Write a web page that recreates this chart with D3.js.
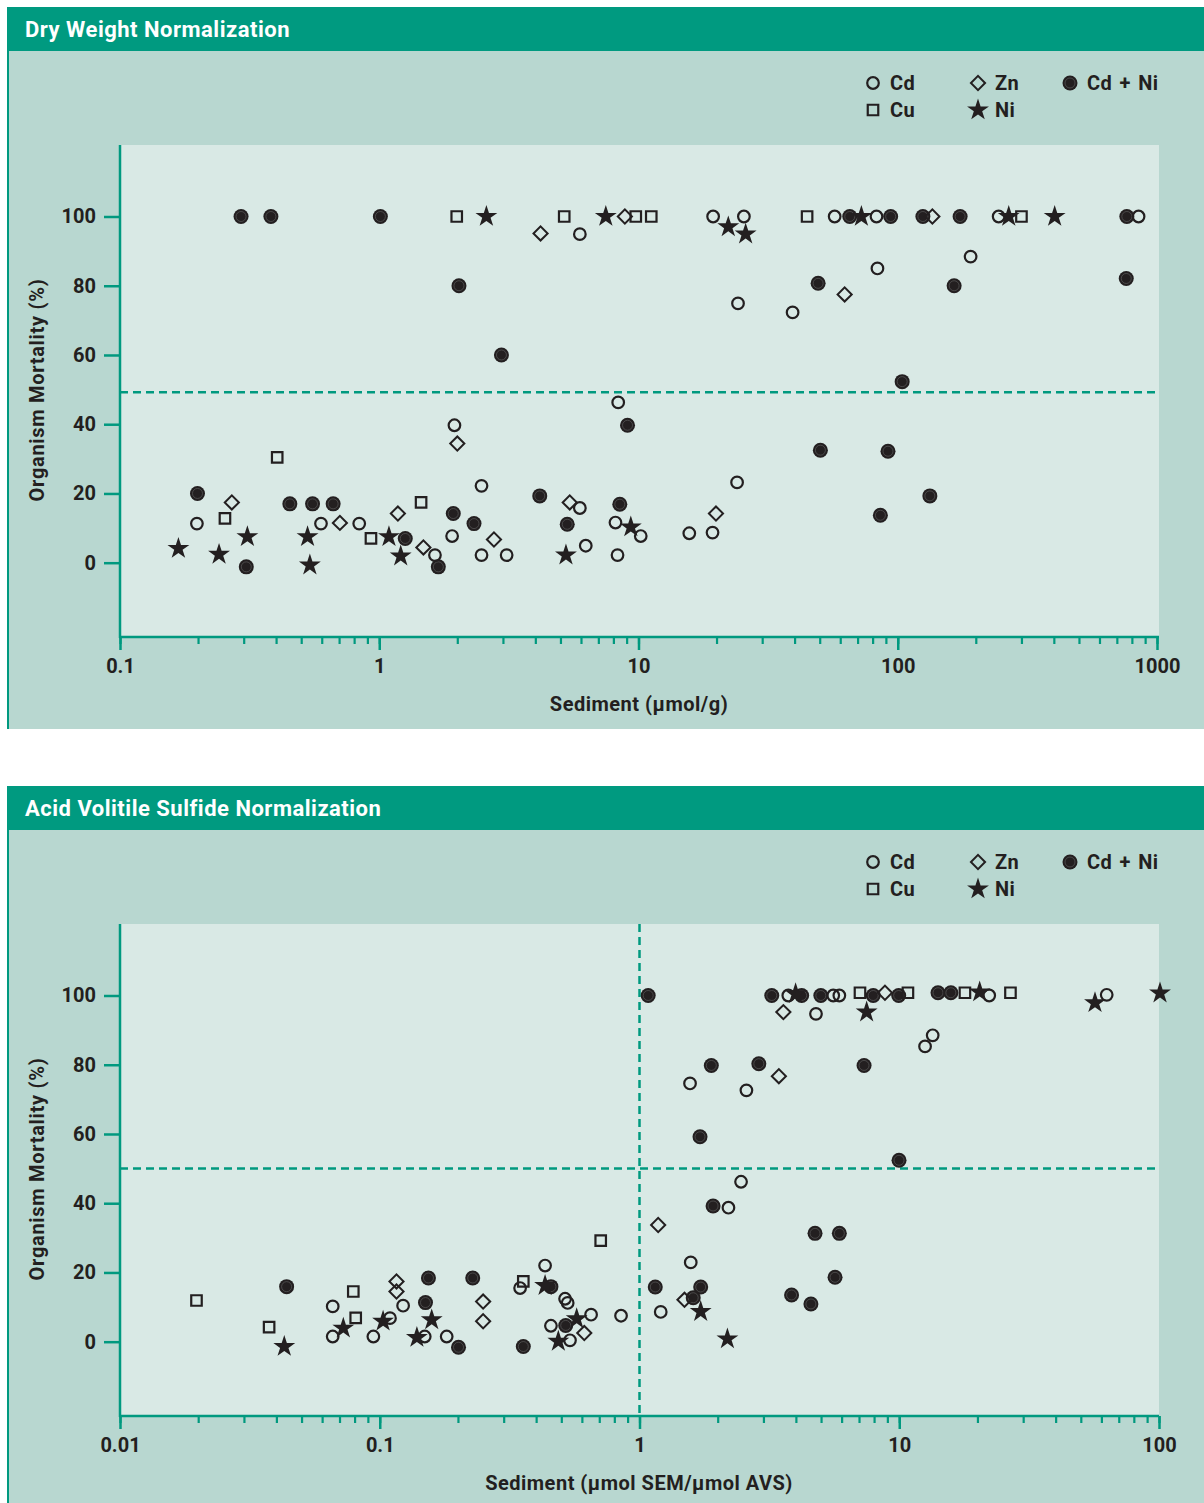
<!DOCTYPE html>
<html><head><meta charset="utf-8">
<script src="https://cdn.jsdelivr.net/npm/d3@7"></script>
<style>
body{margin:0;background:#fff}
svg{display:block}
text{font-family:Roboto,"Noto Sans",sans-serif;font-weight:700;fill:#231f20}
</style>
</head><body><svg id="c" width="1204" height="1503"></svg>
<script>
// ---------- DATA: Dry Weight Normalization (x = Sediment µmol/g, y = mortality %) ----------
const dwCd = [[0.198,11.3],[0.596,11.3],[0.837,11.3],[1.64,2.2],[1.95,39.7],[2.48,22.2],[1.91,7.7],[2.48,2.2],[3.10,2.2],[5.94,94.9],[19.4,100],[25.5,100],[24.2,74.9],[39.3,72.3],[57.1,100],[82.8,100],[83.5,85],[8.35,46.3],[24.0,23.2],[5.94,15.8],[8.15,11.6],[10.2,7.7],[6.26,4.9],[8.30,2.2],[15.7,8.5],[19.3,8.7],[245,100],[849,100],[191,88.4]];
const dwCu = [[1.99,100],[0.404,30.4],[0.254,12.8],[1.45,17.4],[0.929,7],[5.17,100],[9.76,100],[11.2,100],[44.7,100],[300,100]];
const dwZn = [[0.270,17.4],[0.705,11.5],[1.18,14.2],[1.48,4.4],[2.0,34.4],[2.77,6.7],[4.19,95.1],[8.86,100],[5.43,17.4],[19.9,14.2],[62.4,77.5],[136,100]];
const dwNi = [[2.59,100],[0.168,4.1],[0.241,2.4],[0.310,7.5],[0.529,7.5],[0.540,-0.7],[1.09,7.5],[1.21,1.9],[7.48,100],[22.2,97],[25.9,94.9],[72.4,100],[5.25,2.2],[9.34,10.3],[268,100],[403,100]];
const dwCdNi = [[0.293,100],[0.382,100],[1.01,100],[2.03,80],[2.96,60],[0.199,20],[0.452,17],[0.553,17],[0.664,17],[0.307,-1.2],[1.26,7],[1.93,14.2],[2.32,11.3],[1.69,-1.2],[9.07,39.7],[4.16,19.3],[8.47,16.9],[5.31,11.1],[49.3,80.7],[50.3,32.5],[65.3,100],[93.9,100],[125,100],[174,100],[765,100],[165,80],[761,82.1],[104,52.3],[91.7,32.2],[133,19.3],[85.7,13.7]];
const dwThreshold = 49.2;
const dwXTicks = [0.1, 1, 10, 100, 1000];
const dwXTickLabels = ["0.1", "1", "10", "100", "1000"];

// ---------- DATA: Acid Volatile Sulfide Normalization (x = µmol SEM/µmol AVS) ----------
const avsCd = [[0.0659,10.2],[0.0659,1.5],[0.0945,1.5],[0.1095,6.8],[0.123,10.4],[0.149,1.5],[0.181,1.5],[0.433,22],[0.347,15.5],[0.517,12.4],[0.529,11.2],[0.456,4.6],[0.651,7.8],[0.540,0.4],[0.849,7.5],[3.74,100],[5.57,100],[5.88,100],[22.2,100],[4.78,94.7],[13.45,88.5],[12.57,85.3],[1.565,74.6],[2.58,72.6],[2.46,46.2],[2.20,38.7],[1.575,22.9],[1.207,8.6],[62.9,100.2]];
const avsCu = [[0.0197,11.9],[0.0375,4.2],[0.0791,14.5],[0.0808,6.9],[0.357,17.4],[0.709,29.2],[7.06,100.8],[10.8,100.8],[17.9,100.8],[26.8,100.8]];
const avsZn = [[0.116,17.4],[0.116,14.5],[0.250,11.6],[0.250,5.9],[0.613,2.5],[8.81,100.8],[3.58,95.2],[3.44,76.7],[1.18,33.7],[1.49,12.1]];
const avsNi = [[0.0429,-1.4],[0.0724,3.9],[0.103,5.9],[0.1585,6.3],[0.139,1.2],[0.433,16.2],[0.573,6.6],[0.487,0.1],[3.99,100.5],[7.49,95.2],[20.4,101],[1.72,8.7],[2.18,0.8],[56.7,97.9],[100.9,100.7]];
const avsCdNi = [[0.0438,15.9],[0.154,18.4],[0.150,11.3],[0.228,18.4],[0.201,-1.6],[0.357,-1.4],[0.456,15.9],[0.520,4.7],[1.08,100],[3.23,100],[4.21,100],[4.99,100],[7.94,100],[9.95,100],[14.1,100.8],[15.8,100.8],[1.89,79.8],[2.88,80.3],[7.32,79.8],[1.71,59.2],[9.98,52.4],[1.92,39.2],[4.74,31.3],[5.88,31.3],[5.66,18.6],[1.15,15.8],[1.72,15.8],[1.61,12.7],[3.85,13.5],[4.57,10.9]];
const avsThreshold = 50;
const avsRatioLine = 1;
const avsXTicks = [0.01, 0.1, 1, 10, 100];
const avsXTickLabels = ["0.01", "0.1", "1", "10", "100"];

const yTicks = [0, 20, 40, 60, 80, 100];
const seriesNames = ["Cd", "Cu", "Zn", "Ni", "Cd + Ni"];

// ---------- STYLE ----------
const HEADER = "#009a80", PANEL = "#b8d7d0", PLOT = "#d9e9e5", TEAL = "#00997f", INK = "#231f20";
const svg = d3.select("#c");

function marker(g, type, x, y) {
  if (type === "Cd") {
    g.append("circle").attr("cx", x).attr("cy", y).attr("r", 5.8)
      .attr("fill", "none").attr("stroke", INK).attr("stroke-width", 2.2);
  } else if (type === "Cu") {
    g.append("path").attr("d", d3.symbol(d3.symbolSquare, 10.5 * 10.5)())
      .attr("transform", `translate(${x},${y})`)
      .attr("fill", "none").attr("stroke", INK).attr("stroke-width", 2.2);
  } else if (type === "Zn") {
    g.append("path").attr("d", d3.symbol(d3.symbolSquare, 10 * 10)())
      .attr("transform", `translate(${x},${y}) rotate(45)`)
      .attr("fill", "none").attr("stroke", INK).attr("stroke-width", 2);
  } else if (type === "Ni") {
    const R = 11.5;
    g.append("path").attr("d", d3.symbol(d3.symbolStar, R * R / 0.8908130915292852)())
      .attr("transform", `translate(${x},${y})`).attr("fill", INK);
  } else {
    g.append("circle").attr("cx", x).attr("cy", y).attr("r", 7.5).attr("fill", INK);
    g.append("circle").attr("cx", x).attr("cy", y).attr("r", 5)
      .attr("fill", "none").attr("stroke", "#5a5a5a").attr("stroke-width", 0.7);
  }
}

function drawPanel(cfg) {
  const oy = cfg.oy;
  const g = svg.append("g");
  // panel background
  g.append("rect").attr("x", 7).attr("y", 7 + oy).attr("width", 1197).attr("height", cfg.panelH).attr("fill", PANEL);
  g.append("rect").attr("x", 7).attr("y", 7 + oy).attr("width", 2).attr("height", cfg.panelH).attr("fill", TEAL);
  g.append("rect").attr("x", 7).attr("y", 7 + oy).attr("width", 1197).attr("height", 44).attr("fill", HEADER);
  g.append("text").attr("x", 25).attr("y", 37 + oy).text(cfg.title)
    .style("fill", "#fff").style("font-size", "22px").style("letter-spacing", "0.5px");

  const left = 120, right = 1159, top = 145 + oy, bottom = 637 + oy;
  g.append("rect").attr("x", left).attr("y", top).attr("width", right - left).attr("height", bottom - top).attr("fill", PLOT);

  const x = d3.scaleLog().domain([cfg.xTicks[0], cfg.xTicks[cfg.xTicks.length - 1]]).range([120, cfg.xEnd]);
  const y = d3.scaleLinear().domain([0, 100]).range([562.7 + oy, 216.5 + oy]);

  // thresholds
  g.append("line").attr("x1", left).attr("x2", right).attr("y1", y(cfg.threshold)).attr("y2", y(cfg.threshold))
    .attr("stroke", TEAL).attr("stroke-width", 2.5).attr("stroke-dasharray", "8,5");
  if (cfg.vline !== undefined) {
    g.append("line").attr("x1", x(cfg.vline)).attr("x2", x(cfg.vline)).attr("y1", top).attr("y2", bottom)
      .attr("stroke", TEAL).attr("stroke-width", 2.5).attr("stroke-dasharray", "8,5");
  }

  // y axis
  const ya = g.append("g").attr("transform", `translate(${left},0)`)
    .call(d3.axisLeft(y).tickValues(yTicks).tickSize(16).tickPadding(8).tickFormat(d3.format("d")));
  ya.select(".domain").remove();
  ya.selectAll("line").attr("stroke", TEAL).attr("stroke-width", 2.5);
  ya.selectAll("text").style("font-size", "20px").attr("fill", INK);
  g.append("line").attr("x1", left).attr("x2", left).attr("y1", top).attr("y2", bottom + 1)
    .attr("stroke", TEAL).attr("stroke-width", 2.5);

  // x axis minor + major
  const xa1 = g.append("g").attr("transform", `translate(0,${bottom})`)
    .call(d3.axisBottom(x).tickValues(x.ticks()).tickSize(7).tickFormat(""));
  xa1.select(".domain").remove();
  xa1.selectAll("line").attr("stroke", TEAL).attr("stroke-width", 2.2);
  const xa2 = g.append("g").attr("transform", `translate(0,${bottom})`)
    .call(d3.axisBottom(x).tickValues(cfg.xTicks).tickSize(13).tickPadding(9)
      .tickFormat((d, i) => cfg.xTickLabels[i]));
  xa2.select(".domain").remove();
  xa2.selectAll("line").attr("stroke", TEAL).attr("stroke-width", 2.5);
  xa2.selectAll("text").style("font-size", "20px").attr("fill", INK);
  g.append("line").attr("x1", left - 1).attr("x2", right).attr("y1", bottom).attr("y2", bottom)
    .attr("stroke", TEAL).attr("stroke-width", 2.5);

  // axis titles
  g.append("text").attr("x", 639).attr("y", 711 + oy).attr("text-anchor", "middle")
    .style("font-size", "20px").style("letter-spacing", "0.5px").text(cfg.xTitle);
  g.append("text").attr("transform", `translate(44,${390 + oy}) rotate(-90)`).attr("text-anchor", "middle")
    .style("font-size", "20px").style("letter-spacing", "0.7px").text("Organism Mortality (%)");

  // markers
  const mg = g.append("g");
  cfg.series.forEach(s => s.data.forEach(d => marker(mg, s.name, x(d[0]), y(d[1]))));

  // legend
  const lg = g.append("g");
  const legendPos = {"Cd": [873, 83], "Cu": [873, 110], "Zn": [978, 83], "Ni": [978, 110], "Cd + Ni": [1070, 83]};
  seriesNames.forEach(n => {
    const p = legendPos[n];
    marker(lg, n, p[0], p[1] + oy);
    lg.append("text").attr("x", p[0] + 17).attr("y", p[1] + oy + 7).style("font-size", "20px")
      .style("letter-spacing", "0.4px").style("word-spacing", "2px").text(n);
  });
}

drawPanel({
  oy: 0, panelH: 722, title: "Dry Weight Normalization",
  xTicks: dwXTicks, xTickLabels: dwXTickLabels, xEnd: 1157,
  xTitle: "Sediment (µmol/g)", threshold: dwThreshold,
  series: [{name: "Cd + Ni", data: dwCdNi}, {name: "Cd", data: dwCd}, {name: "Cu", data: dwCu}, {name: "Zn", data: dwZn}, {name: "Ni", data: dwNi}]
});
drawPanel({
  oy: 779, panelH: 717, title: "Acid Volitile Sulfide Normalization",
  xTicks: avsXTicks, xTickLabels: avsXTickLabels, xEnd: 1159,
  xTitle: "Sediment (µmol SEM/µmol AVS)", threshold: avsThreshold, vline: avsRatioLine,
  series: [{name: "Cd + Ni", data: avsCdNi}, {name: "Cd", data: avsCd}, {name: "Cu", data: avsCu}, {name: "Zn", data: avsZn}, {name: "Ni", data: avsNi}]
});
</script>
</body></html>
